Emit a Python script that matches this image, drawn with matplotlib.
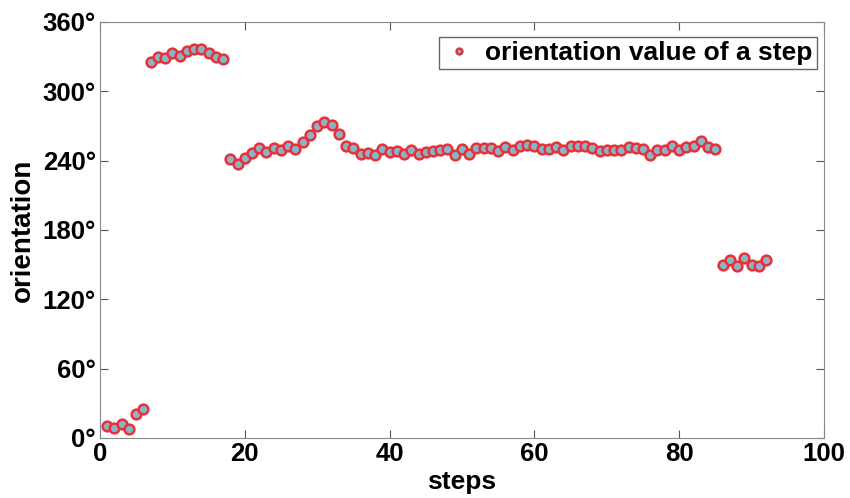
import numpy as np
import matplotlib.pyplot as plt

plt.rcParams['font.family'] = ['Liberation Sans', 'DejaVu Sans']

steps = np.arange(1, 93)
orientation = [
    10.6, 8.9, 12.0, 7.5, 20.5, 25.0,
    325.5, 329.3, 329.0, 333.3, 330.7, 335.0, 336.2, 336.2, 332.7, 329.3, 328.1,
    241.3, 237.3, 242.0, 246.8, 251.1, 247.1, 251.1, 249.1, 252.3, 250.3,
    256.3, 261.9, 269.6, 273.4, 270.8, 263.2, 252.9, 250.6, 245.4, 246.8,
    244.6, 249.7, 247.7, 248.3, 245.4, 249.1, 245.9, 247.7, 248.3, 248.9,
    250.3, 245.1, 249.7, 245.9, 250.9, 251.1, 251.1, 248.5, 251.7, 249.1,
    252.9, 253.5, 252.9, 250.0, 250.3, 252.0, 248.9, 252.6, 252.6, 252.6,
    250.9, 248.3, 248.9, 248.9, 249.1, 252.0, 251.1, 249.7, 244.8, 249.1,
    249.1, 252.6, 248.9, 251.7, 252.6, 256.9, 251.5, 250.0,
    149.7, 153.7, 149.0, 156.0, 149.7, 149.0, 153.7,
]
xticks = [0, 20, 40, 60, 80, 100]
yticks = [0, 60, 120, 180, 240, 300, 360]

fig = plt.figure(figsize=(8.5, 4.98), dpi=100)
ax = fig.add_axes([0.1176, 0.1205, 0.8518, 0.8355])

ax.plot(steps, orientation, 'o', linestyle='none', markersize=7,
        markerfacecolor='#8ab4c4', markeredgecolor='#e8303a', markeredgewidth=1.8,
        label='orientation value of a step')

ax.set_xlim(0, 100)
ax.set_ylim(0, 360)
ax.set_xticks(xticks)
ax.set_yticks(yticks)
ax.set_yticklabels([f'{v}°' for v in yticks])
ax.tick_params(direction='in', length=6, color='#555555', labelsize=18.5, pad=3,
               top=True, right=True)
for lab in ax.get_xticklabels() + ax.get_yticklabels():
    lab.set_fontweight('bold')
for sp in ax.spines.values():
    sp.set_color('#888888')

ax.set_xlabel('steps', fontsize=19, fontweight='bold', labelpad=3)
ax.set_ylabel('orientation', fontsize=20, fontweight='bold', labelpad=5)

leg = ax.legend(loc='upper right', prop={'weight': 'bold', 'size': 19},
                fancybox=False, framealpha=1, edgecolor='#666666',
                handletextpad=0.4, borderpad=0.15, handlelength=1.2,
                markerscale=0.6, borderaxespad=0,
                bbox_to_anchor=(0.990, 0.964))
leg.get_frame().set_linewidth(1)

fig.savefig('out.png', dpi=100)
